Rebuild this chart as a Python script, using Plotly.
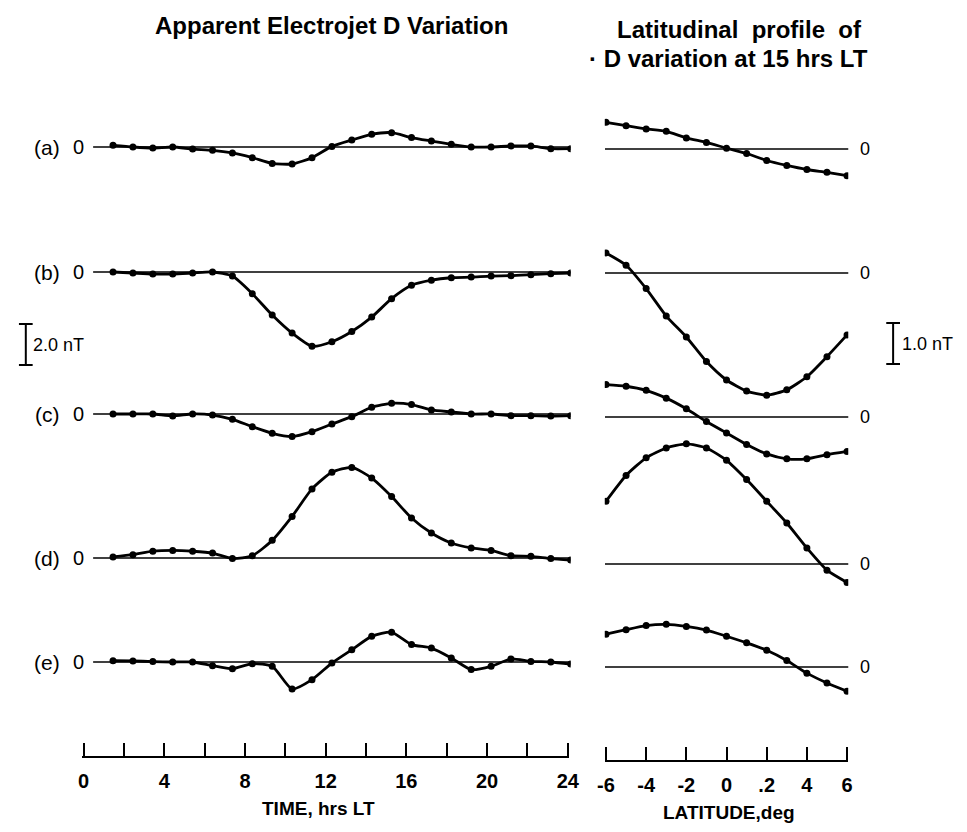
import plotly.graph_objects as go

# ---------------- data ----------------
ROW_LABELS = ["(a)", "(b)", "(c)", "(d)", "(e)"]

TIME_HRS = list(range(1, 25))
D_A = [0.08, 0, -0.05, 0, -0.1, -0.16, -0.29, -0.52, -0.8, -0.83, -0.52, 0.03,
       0.34, 0.62, 0.7, 0.46, 0.29, 0.13, 0, 0, 0.05, 0.05, -0.08, -0.08]
D_B = [0, -0.05, -0.1, -0.1, -0.05, 0, -0.2, -1.06, -2.1, -2.98, -3.62, -3.4,
       -2.9, -2.2, -1.3, -0.65, -0.4, -0.28, -0.25, -0.2, -0.18, -0.13, -0.08, -0.05]
D_C = [0, 0, 0, -0.1, 0, -0.05, -0.26, -0.62, -0.94, -1.1, -0.86, -0.49,
       -0.13, 0.33, 0.52, 0.46, 0.2, 0.1, 0, 0, -0.08, -0.08, -0.1, -0.08]
D_D = [0.05, 0.16, 0.33, 0.37, 0.33, 0.24, -0.03, 0.11, 0.86, 2.03, 3.37, 4.18,
       4.42, 3.9, 3.0, 1.95, 1.22, 0.73, 0.49, 0.37, 0.11, 0.08, -0.03, -0.1]
D_E = [0.06, 0.05, 0.02, 0, 0, -0.18, -0.33, -0.08, -0.21, -1.32, -0.86, -0.05,
       0.6, 1.25, 1.45, 0.85, 0.68, 0.2, -0.37, -0.21, 0.15, 0.03, 0, -0.1]

LAT_DEG = list(range(-6, 7))
R_A = [0.65, 0.57, 0.49, 0.43, 0.27, 0.16, 0.02, -0.11, -0.28, -0.4, -0.5, -0.57, -0.65]
R_B = [0.49, 0.19, -0.38, -1.05, -1.56, -2.16, -2.61, -2.88, -2.98, -2.85, -2.53, -2.04, -1.51]
R_C = [0.79, 0.75, 0.65, 0.46, 0.2, -0.11, -0.39, -0.67, -0.9, -1.02, -1.02, -0.92, -0.84]
R_D = [1.53, 2.16, 2.59, 2.83, 2.93, 2.83, 2.53, 2.06, 1.53, 1.0, 0.39, -0.15, -0.45]
R_E = [0.8, 0.91, 1.01, 1.04, 0.99, 0.9, 0.75, 0.59, 0.41, 0.16, -0.15, -0.39, -0.59]

TIME_TICKS = list(range(0, 25, 2))
TIME_TICK_TEXT = ["0", "", "4", "", "8", "", "12", "", "16", "", "20", "", "24"]
LAT_TICKS = [-6, -4, -2, 0, 2, 4, 6]
LAT_TICK_TEXT = ["-6", "-4", "-2", "0", ".2", "4", "6"]

LEFT_SERIES = [D_A, D_B, D_C, D_D, D_E]
RIGHT_SERIES = [R_A, R_B, R_C, R_D, R_E]

# ---------------- layout constants (screen pixels) ----------------
SHIFT = 8                       # default page body margin
FW, FH = 967 - 2 * SHIFT, 832 - 2 * SHIFT
L_AXIS_PX = 756
R_AXIS_PX = 760
L_PX_PER_NT = 20.5              # 2.0 nT bar = 41 px
R_PX_PER_NT = 41.0              # 1.0 nT bar = 41 px
L_BASE_PX = [147, 272, 414, 558, 662]
R_BASE_PX = [149, 273, 417, 564, 667]
PAD = 0.06                      # tiny range pad so the end ticks are drawn

L_OFF = [(L_AXIS_PX - p) / L_PX_PER_NT for p in L_BASE_PX]
R_OFF = [(R_AXIS_PX - p) / R_PX_PER_NT for p in R_BASE_PX]

FONT = "Liberation Sans, Arial, Helvetica, sans-serif"


def px_x(p):
    return (p - SHIFT) / FW


def px_y(p):
    return 1 - (p - SHIFT) / FH


def font(size, bold=False):
    return dict(family=FONT, size=size, color="black", weight="bold" if bold else "normal")


fig = go.Figure()

line_style = dict(color="black", width=2.8, shape="spline", smoothing=0.6)
marker_style = dict(color="black", size=7)

for vals, off in zip(LEFT_SERIES, L_OFF):
    fig.add_trace(go.Scatter(
        x=TIME_HRS, y=[off + v for v in vals], mode="lines+markers",
        line=line_style, marker=marker_style, xaxis="x", yaxis="y",
        showlegend=False, hoverinfo="skip"))

for vals, off in zip(RIGHT_SERIES, R_OFF):
    fig.add_trace(go.Scatter(
        x=LAT_DEG, y=[off + v for v in vals], mode="lines+markers",
        line=line_style, marker=marker_style, xaxis="x2", yaxis="y2",
        showlegend=False, hoverinfo="skip"))

# invisible helper so the time axis (x3) is drawn
fig.add_trace(go.Scatter(x=TIME_TICKS, y=[0] * len(TIME_TICKS), mode="markers",
                         marker=dict(opacity=0), xaxis="x3", yaxis="y",
                         showlegend=False, hoverinfo="skip"))

shapes = []
annotations = []
for lab, off in zip(ROW_LABELS, L_OFF):
    shapes.append(dict(type="line", xref="x", yref="y", x0=-0.1, x1=24, y0=off, y1=off,
                       line=dict(color="black", width=1.7), layer="below"))
    annotations.append(dict(text=lab, xref="paper", yref="y", x=px_x(40), y=off,
                            showarrow=False, xanchor="center", yanchor="middle",
                            font=font(21)))
    annotations.append(dict(text="0", xref="paper", yref="y", x=px_x(72), y=off,
                            showarrow=False, xanchor="center", yanchor="middle",
                            font=font(20)))
for off in R_OFF:
    shapes.append(dict(type="line", xref="x2", yref="y2", x0=-6.05, x1=6.1, y0=off, y1=off,
                       line=dict(color="black", width=1.7), layer="below"))
    annotations.append(dict(text="0", xref="paper", yref="y2", x=px_x(874), y=off,
                            showarrow=False, xanchor="center", yanchor="middle",
                            font=font(18)))

# scale bars
lb0 = (L_AXIS_PX - 365) / L_PX_PER_NT
rb0 = (R_AXIS_PX - 364) / R_PX_PER_NT
for (xc, yref, y0, length, w) in [(18, "y", lb0, 2.0, 7), (903, "y2", rb0, 1.0, 7)]:
    shapes.append(dict(type="line", xref="paper", yref=yref, x0=px_x(xc), x1=px_x(xc),
                       y0=y0, y1=y0 + length, line=dict(color="black", width=2)))
    for yy in (y0, y0 + length):
        shapes.append(dict(type="line", xref="paper", yref=yref, x0=px_x(xc - w),
                           x1=px_x(xc + w), y0=yy, y1=yy, line=dict(color="black", width=2)))
annotations.append(dict(text="2.0 nT", xref="paper", yref="y", x=px_x(23), y=lb0 + 1.0,
                        showarrow=False, xanchor="left", yanchor="middle", font=font(18)))
annotations.append(dict(text="1.0 nT", xref="paper", yref="y2", x=px_x(910), y=rb0 + 0.5,
                        showarrow=False, xanchor="left", yanchor="middle", font=font(18)))

# titles
annotations.append(dict(text="Apparent Electrojet D Variation", xref="paper", yref="paper",
                        x=px_x(330), y=px_y(25), showarrow=False, xanchor="center",
                        yanchor="middle", font=font(24, True)))
annotations.append(dict(text="Latitudinal  profile  of", xref="paper", yref="paper",
                        x=px_x(746), y=px_y(29), showarrow=False, xanchor="center",
                        yanchor="middle", font=font(24, True)))
annotations.append(dict(text="· D variation at 15 hrs LT", xref="paper", yref="paper",
                        x=px_x(735), y=px_y(58), showarrow=False, xanchor="center",
                        yanchor="middle", font=font(24, True)))
annotations.append(dict(text="TIME, hrs LT", xref="paper", yref="paper",
                        x=px_x(317), y=px_y(808), showarrow=False, xanchor="center",
                        yanchor="middle", font=font(19, True)))
annotations.append(dict(text="LATITUDE,deg", xref="paper", yref="paper",
                        x=px_x(736), y=px_y(812), showarrow=False, xanchor="center",
                        yanchor="middle", font=font(19, True)))

axis_common = dict(showgrid=False, zeroline=False, showline=True, linecolor="black",
                   linewidth=2, ticks="inside", ticklen=13, tickwidth=2, tickcolor="black",
                   tickfont=font(20, True), fixedrange=True, ticklabelstandoff=6)

L_T0, L_T24 = 77, 571           # pixels of 0 h and 24 h on the time axis
L_PPH = (L_T24 - L_T0) / 24
R_M6, R_P6 = 610, 856           # pixels of -6 and +6 deg
R_PPD = (R_P6 - R_M6) / 12

fig.update_layout(
    width=FW, height=FH, margin=dict(l=0, r=0, t=0, b=0),
    paper_bgcolor="white", plot_bgcolor="rgba(0,0,0,0)",
    showlegend=False,
    xaxis=dict(domain=[px_x(86.7), px_x(574)], range=[0, 24], visible=False, anchor="y"),
    xaxis3=dict(domain=[px_x(L_T0 - PAD * L_PPH), px_x(L_T24 + PAD * L_PPH)],
                range=[-PAD, 24 + PAD], anchor="y",
                tickmode="array", tickvals=TIME_TICKS, ticktext=TIME_TICK_TEXT, **axis_common),
    yaxis=dict(domain=[px_y(L_AXIS_PX), 1], range=[0, (L_AXIS_PX - SHIFT) / L_PX_PER_NT],
               visible=False, anchor="x"),
    xaxis2=dict(domain=[px_x(R_M6 - PAD * R_PPD), px_x(R_P6 + PAD * R_PPD)],
                range=[-6 - PAD, 6 + PAD], anchor="y2",
                tickmode="array", tickvals=LAT_TICKS, ticktext=LAT_TICK_TEXT, **axis_common),
    yaxis2=dict(domain=[px_y(R_AXIS_PX), 1], range=[0, (R_AXIS_PX - SHIFT) / R_PX_PER_NT],
                visible=False, anchor="x2"),
    shapes=shapes, annotations=annotations,
)

fig.write_html("out.html", config={"displayModeBar": False})
